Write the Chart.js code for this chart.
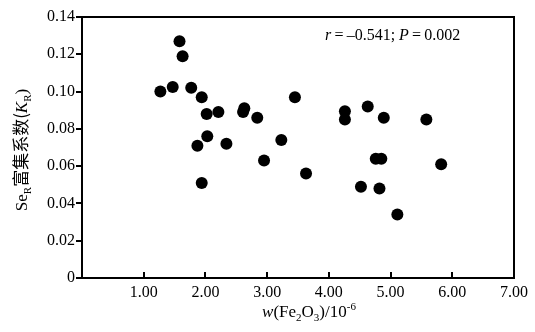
<!DOCTYPE html>
<html>
<head>
<meta charset="utf-8">
<script src="https://cdn.jsdelivr.net/npm/chart.js@4/dist/chart.umd.min.js"></script>
<style>
  html, body { margin: 0; padding: 0; background: #fff; }
  #chart { display: block; }
</style>
</head>
<body>
<canvas id="chart" width="535" height="332"></canvas>
<script>
// Fe2O3 content (x) and Se enrichment coefficient K_R (y)
const fe2o3 = [1.27, 1.47, 1.58, 1.63, 1.77, 1.94, 1.87, 1.94, 2.02, 2.03,
               2.21, 2.34, 2.63, 2.61, 2.84, 2.95, 3.23, 3.45, 3.63, 4.26,
               4.26, 4.63, 4.52, 4.76, 4.85, 4.82, 4.89, 5.11, 5.58, 5.82];
const kR = [0.100, 0.1025, 0.127, 0.119, 0.102, 0.097, 0.071, 0.051, 0.088, 0.076,
            0.089, 0.072, 0.091, 0.089, 0.086, 0.063, 0.074, 0.097, 0.056, 0.0895,
            0.085, 0.092, 0.049, 0.064, 0.064, 0.048, 0.086, 0.034, 0.085, 0.061];
const xTicks = [1, 2, 3, 4, 5, 6, 7];
const statText = [
  { t: 'r', it: true }, { t: '\u2009=\u2009–0.541; ' }, { t: 'P', it: true }, { t: '\u2009=\u20090.002' }
];
const yTitle = [
  { t: 'Se' }, { t: 'R', sub: true }, { t: '富集系数(', cjk: true },
  { t: 'K', it: true }, { t: 'R', sub: true }, { t: ')' }
];
const xTitle = [
  { t: 'w', it: true }, { t: '(Fe' }, { t: '2', sub: true }, { t: 'O' },
  { t: '3', sub: true }, { t: ')/10' }, { t: '-6', sup: true }
];

const SERIF = '"Liberation Serif", "Times New Roman", serif';

function fontFor(p, size) {
  let s = (p.sub || p.sup) ? Math.round(size * 0.65) : size;
  let fam = p.cjk ? '"Noto Sans CJK SC", sans-serif' : SERIF;
  return (p.it ? 'italic ' : '') + s + 'px ' + fam;
}

// draws a run of text pieces starting at x (baseline y)
function drawRich(ctx, parts, x, y, size, center) {
  let total = 0;
  parts.forEach(p => { ctx.font = fontFor(p, size); total += ctx.measureText(p.t).width; });
  let cx = center ? x - total / 2 : x;
  ctx.textBaseline = 'alphabetic';
  ctx.textAlign = 'left';
  parts.forEach(p => {
    ctx.font = fontFor(p, size);
    let dy = p.sub ? size * 0.25 : (p.sup ? -size * 0.4 : 0);
    ctx.fillText(p.t, cx, y + dy);
    cx += ctx.measureText(p.t).width;
  });
}

const extras = {
  id: 'extras',
  afterDraw(c) {
    const ctx = c.ctx;
    const a = c.chartArea;
    const xs = c.scales.x;
    ctx.save();
    ctx.strokeStyle = '#000';
    ctx.fillStyle = '#000';
    ctx.lineWidth = 2;
    ctx.strokeRect(a.left, a.top, a.right - a.left, a.bottom - a.top);
    // inward ticks on the x axis
    xTicks.forEach(v => {
      const px = Math.round(xs.getPixelForValue(v));
      ctx.beginPath();
      ctx.moveTo(px, a.bottom);
      ctx.lineTo(px, a.bottom - 6);
      ctx.stroke();
    });
    drawRich(ctx, statText, 325, 40, 16, false);
    drawRich(ctx, xTitle, 309, 317, 17, true);
    ctx.translate(27, 150);
    ctx.rotate(-Math.PI / 2);
    drawRich(ctx, yTitle, 0, 0, 17, true);
    ctx.restore();
  }
};

new Chart(document.getElementById('chart'), {
  type: 'scatter',
  data: {
    datasets: [{
      data: fe2o3.map((x, i) => ({ x: x, y: kR[i] })),
      backgroundColor: '#000',
      borderWidth: 0,
      pointRadius: 6,
      pointHoverRadius: 6
    }]
  },
  options: {
    responsive: false,
    animation: false,
    devicePixelRatio: 1,
    layout: { padding: { top: 17, right: 21, left: 0, bottom: 0 } },
    plugins: { legend: { display: false }, tooltip: { enabled: false } },
    scales: {
      x: {
        min: 0, max: 7,
        afterFit: s => { s.height = 54; },
        grid: { display: false, drawTicks: false },
        border: { display: false },
        ticks: {
          stepSize: 1, padding: 5, color: '#000', maxRotation: 0, autoSkip: false,
          font: { family: SERIF, size: 16 },
          callback: v => v === 0 ? '' : Number(v).toFixed(2)
        }
      },
      y: {
        min: 0, max: 0.14,
        afterFit: s => { s.width = 82; },
        grid: { drawOnChartArea: false, drawTicks: true, tickLength: 6, color: '#000', lineWidth: 2 },
        border: { display: false },
        ticks: {
          stepSize: 0.02, padding: 1, color: '#000', autoSkip: false,
          font: { family: SERIF, size: 16 },
          callback: v => v === 0 ? '0' : Number(v).toFixed(2)
        }
      }
    }
  },
  plugins: [extras]
});
</script>
</body>
</html>
